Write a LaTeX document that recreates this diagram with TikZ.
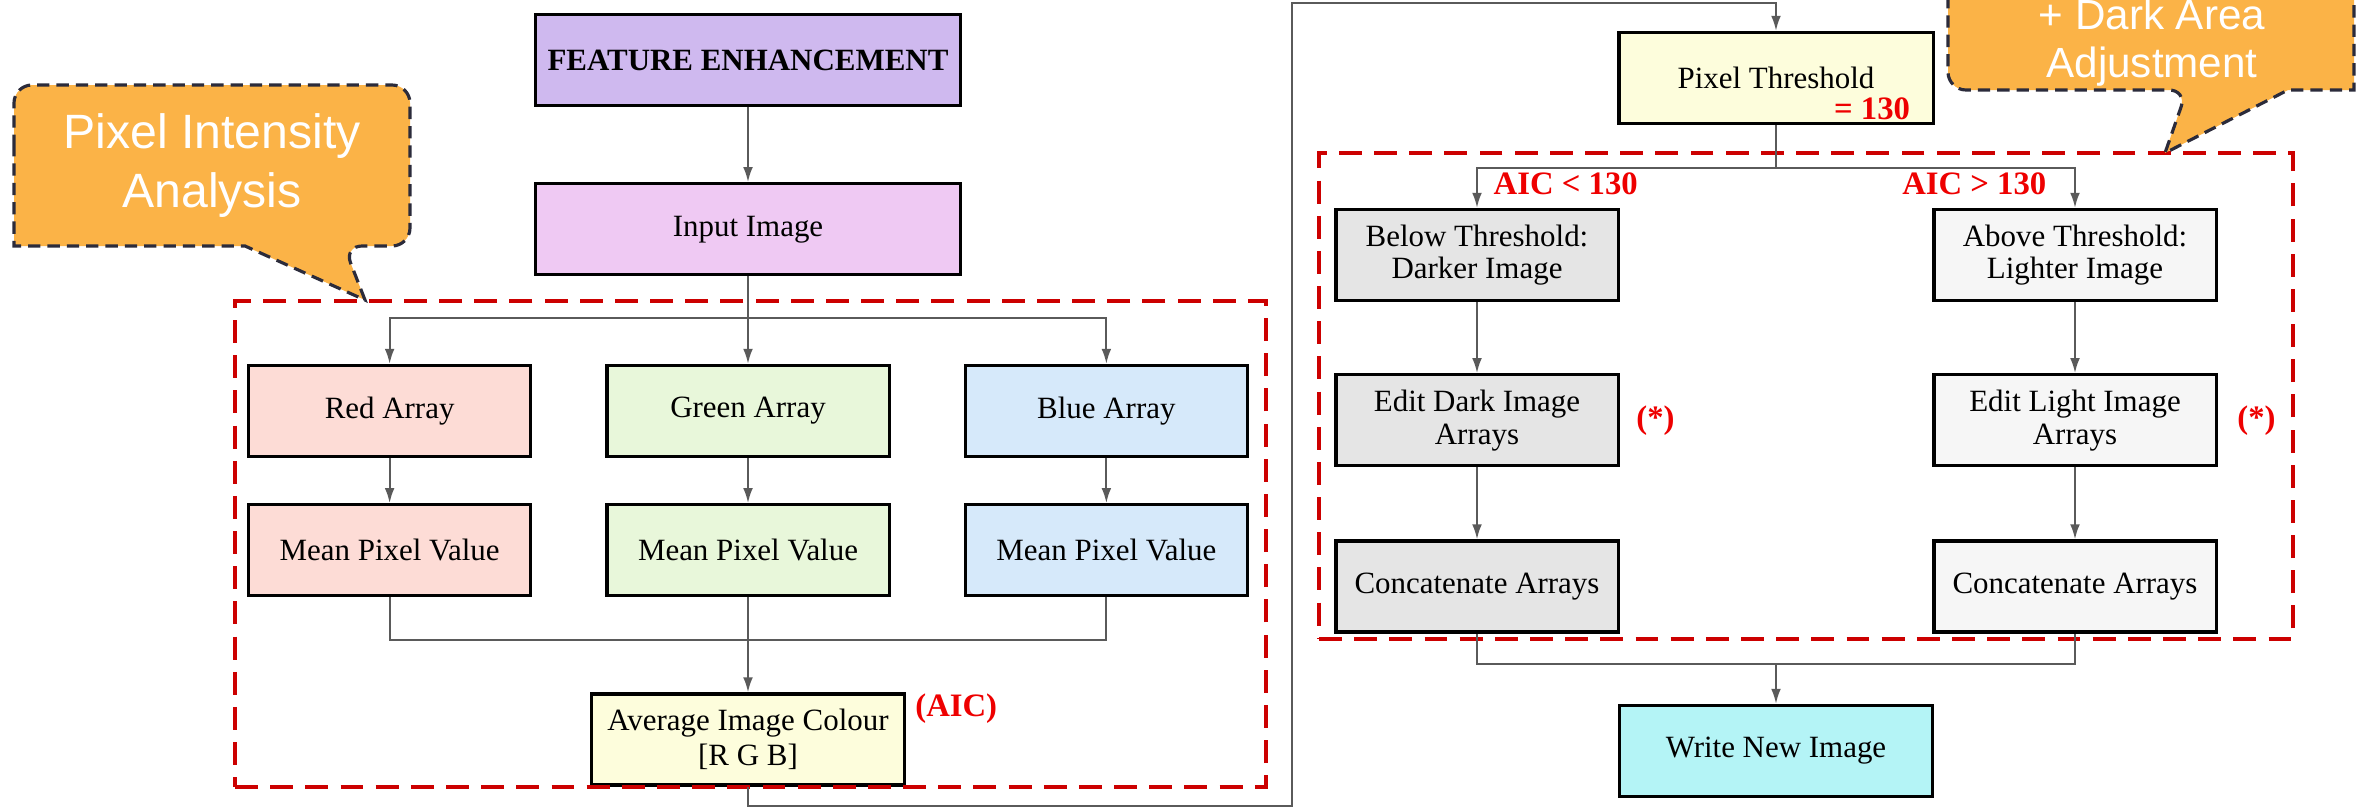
\documentclass[tikz,border=0pt]{standalone}
\usepackage{fontspec}
\setmainfont{Liberation Serif}
\newfontfamily\bubblefont{Liberation Sans}
\usepackage{tikz}
\usetikzlibrary{positioning, arrows.meta, fit, calc}
\usepackage{xcolor}
\definecolor{fefeature}{HTML}{CFB9EF}
\definecolor{feinput}{HTML}{EFC9F3}
\definecolor{fered}{HTML}{FDDCD6}
\definecolor{fegreen}{HTML}{E8F7DA}
\definecolor{feblue}{HTML}{D6E9FA}
\definecolor{feyellow}{HTML}{FDFDDC}
\definecolor{fedark}{HTML}{E5E5E5}
\definecolor{felight}{HTML}{F6F6F6}
\definecolor{fecyan}{HTML}{B4F4F6}
\definecolor{feorange}{HTML}{FBB347}
\definecolor{feframe}{HTML}{CC0000}
\definecolor{fenote}{HTML}{EE0000}
\definecolor{feline}{HTML}{5A5A5A}
\definecolor{feedge}{HTML}{2B2B3B}

\begin{document}
\begin{tikzpicture}[x=0.01cm, y=-0.01cm, font=\fontsize{8.8}{9.3}\selectfont,
  box/.style={draw=black, line width=0.9pt, minimum width=2.82cm, minimum height=0.91cm, align=center, inner sep=1pt},
  link/.style={draw=feline, line width=0.6pt},
  arr/.style={link, -{Latex[length=4.3pt, width=2.8pt]}},
  grp/.style={draw=feframe, line width=1.2pt, dash pattern=on 6.5pt off 3.5pt, inner sep=0pt},
  bubble/.style={fill=feorange, draw=feedge, line width=0.9pt, dash pattern=on 3.5pt off 2pt},
  note/.style={text=fenote, font=\bfseries\fontsize{9.3}{10}\selectfont, inner sep=0pt}]

\useasboundingbox (0,0) rectangle (2356,809);
\clip (0,0) rectangle (2356,809);

% Analysis column
\node[box, fill=fefeature, minimum width=4.24cm] (feat) at (748,60) {\textbf{FEATURE ENHANCEMENT}};
\node[box, fill=feinput, minimum width=4.24cm, below=0.75cm of feat] (inp) {Input Image};
\node[box, fill=fegreen] (garr) at (748,411) {Green Array};
\node[box, fill=fered, left=0.73cm of garr] (rarr) {Red Array};
\node[box, fill=feblue, right=0.73cm of garr] (barr) {Blue Array};
\node[box, fill=fered, below=0.45cm of rarr] (rmean) {Mean Pixel Value};
\node[box, fill=fegreen, below=0.45cm of garr] (gmean) {Mean Pixel Value};
\node[box, fill=feblue, below=0.45cm of barr] (bmean) {Mean Pixel Value};
\node[box, fill=feyellow, minimum width=3.12cm, below=0.95cm of gmean, font=\fontsize{8.8}{10}\selectfont] (aic) {Average Image Colour\\{[R G B]}};
\node[note, anchor=north west] (aicnote) at ($(aic.north east)+(9,1)$) {(AIC)};

% Threshold column
\node[box, fill=feyellow, minimum width=3.14cm] (thr) at (1776,78) {Pixel Threshold};
\node[note, anchor=south east] (thrnote) at ($(thr.south east)+(-24,-5)$) {= 130};
\node[box, fill=fedark] (dark) at (1477,255) {Below Threshold:\\Darker Image};
\node[box, fill=felight] (light) at (2075,255) {Above Threshold:\\Lighter Image};
\node[box, fill=fedark, below=0.71cm of dark] (editd) {Edit Dark Image\\Arrays};
\node[box, fill=felight, below=0.71cm of light] (editl) {Edit Light Image\\Arrays};
\node[box, fill=fedark, below=0.72cm of editd] (catd) {Concatenate Arrays};
\node[box, fill=felight, below=0.72cm of editl] (catl) {Concatenate Arrays};
\node[box, fill=fecyan, minimum width=3.13cm] (write) at (1776,751) {Write New Image};
\node[note, anchor=south west] (lownote) at ($(dark.north)+(16,-12)$) {AIC < 130};
\node[note, anchor=south east] (highnote) at ($(light.north)+(-28,-12)$) {AIC > 130};
\node[note, anchor=west] (stard) at ($(editd.east)+(16,0)$) {(*)};
\node[note, anchor=west] (starl) at ($(editl.east)+(19,0)$) {(*)};

% Dashed groups
\coordinate (gla) at (235,301);
\coordinate (glb) at (1266,787);
\coordinate (gra) at (1319,153);
\coordinate (grb) at (2293,639);
\node[grp, fit=(gla)(glb)] (grpl) {};
\node[grp, fit=(gra)(grb)] (grpr) {};

% Arrows
\coordinate (splitl) at (748,318);
\coordinate (mergel) at (748,640);
\coordinate (splitr) at (1776,168);
\coordinate (merger) at (1776,664);
\coordinate (loopa) at (1292,806);
\coordinate (loopb) at (1292,3);
\draw[arr] (feat) -- (inp);
\draw[link] (inp) -- (splitl);
\draw[arr] (splitl) -| (rarr);
\draw[arr] (splitl) -- (garr);
\draw[arr] (splitl) -| (barr);
\draw[arr] (rarr) -- (rmean);
\draw[arr] (garr) -- (gmean);
\draw[arr] (barr) -- (bmean);
\draw[link] (rmean) |- (mergel);
\draw[link] (bmean) |- (mergel);
\draw[arr] (gmean) -- (aic);
\draw[arr] (aic.south) |- (loopa) -- (loopb) -| (thr.north);
\draw[link] (thr) -- (splitr);
\draw[arr] (splitr) -| (dark);
\draw[arr] (splitr) -| (light);
\draw[arr] (dark) -- (editd);
\draw[arr] (light) -- (editl);
\draw[arr] (editd) -- (catd);
\draw[arr] (editl) -- (catl);
\draw[link] (catd) |- (merger) -| (catl);
\draw[arr] (merger) -- (write);

% Callouts
\path[bubble] (14,165) [rounded corners=0.18cm] -- (14,85) -- (410,85) -- (410,246) -- (344,246) [sharp corners] -- (365,300) -- (245,246) -- (14,246) [rounded corners=0.18cm] -- cycle;
\node[text=white, align=center, font=\bubblefont\fontsize{13.7}{16.8}\selectfont] (pia) at (212,166) {Pixel Intensity\\Analysis};
\path[bubble] (1948,-80) [rounded corners=0.18cm] -- (1948,90) -- (2187,90) [sharp corners] -- (2165,153) -- (2288,90) -- (2354,90) [rounded corners=0.18cm] -- (2354,-80) -- cycle;
\node[text=white, align=center, font=\bubblefont\fontsize{12}{13.6}\selectfont] (daa) at (2152,43) {+ Dark Area\\Adjustment};

\end{tikzpicture}
\end{document}
